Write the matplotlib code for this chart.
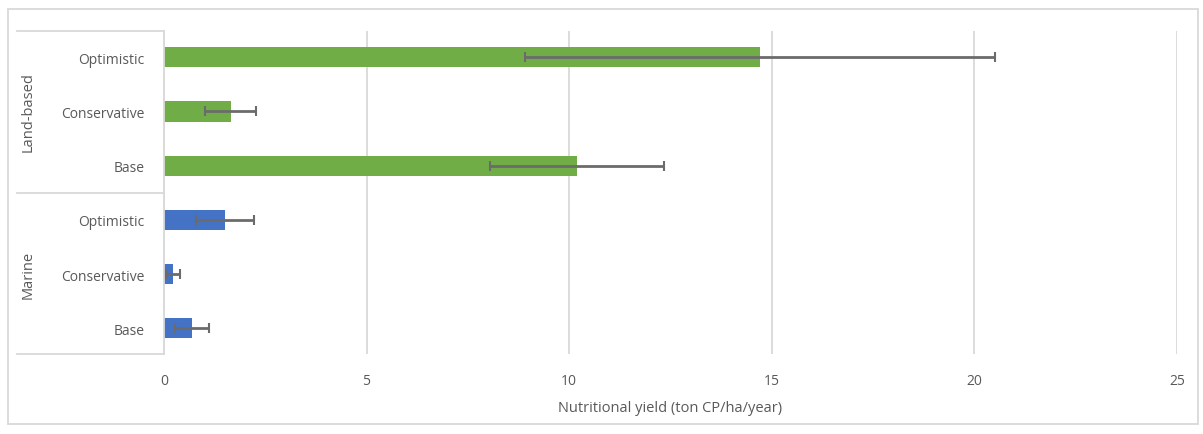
import numpy as np
import matplotlib

matplotlib.use("Agg")
import matplotlib.pyplot as plt
from matplotlib.patches import Rectangle

# Scenario rows, bottom to top
groups = ["Marine", "Land-based"]
scenarios = ["Base", "Conservative", "Optimistic"]
marine_yield = [0.69, 0.22, 1.50]
marine_err = [0.42, 0.18, 0.72]
land_yield = [10.2, 1.65, 14.7]
land_err = [2.15, 0.63, 5.8]

GREEN = "#70AD47"
BLUE = "#4472C4"
TEXT = "#595959"
GRID = "#D9D9D9"

plt.rcParams["font.family"] = ["Open Sans", "DejaVu Sans"]

fig = plt.figure(figsize=(12.03, 4.35), dpi=100)
ax = fig.add_axes([0.1363, 0.184, 0.842, 0.742])

values = marine_yield + land_yield
errors = marine_err + land_err
colors = [BLUE] * 3 + [GREEN] * 3
labels = scenarios * 2
ypos = np.arange(len(values))

ax.barh(ypos, values, height=0.37, color=colors, zorder=2)
ax.errorbar(values, ypos, xerr=errors, fmt="none", ecolor="#6B6B6B",
            elinewidth=2, capsize=3.5, capthick=1.5, zorder=3)

ax.set_xlim(0, 25)
ax.set_ylim(-0.47, 5.48)
ax.set_xticks(range(0, 26, 5))
ax.set_yticks(ypos)
ax.set_yticklabels(labels)
ax.tick_params(axis="both", length=0, colors=TEXT, labelsize=10)
ax.tick_params(axis="y", pad=14)
ax.tick_params(axis="x", pad=14)
ax.grid(axis="x", color=GRID, lw=1.3, zorder=0)
for s in ["top", "right", "bottom"]:
    ax.spines[s].set_visible(False)
ax.spines["left"].set_color(GRID)
ax.spines["left"].set_linewidth(1.3)

ax.set_xlabel("Nutritional yield (ton CP/ha/year)", color=TEXT, fontsize=10.5, labelpad=8)

# Category group brackets to the left of the axis
trans = ax.get_yaxis_transform()
x_left = (17 - 164) / (1177 - 164)
for yb in [-0.47, 2.5, 5.48]:
    ax.plot([x_left, 0], [yb, yb], transform=trans, color=GRID, lw=1.3, clip_on=False)
for gi, name in enumerate(groups):
    ax.text((28 - 164) / (1177 - 164), 1 + 3 * gi, name, transform=trans, rotation=90,
            ha="center", va="center", color=TEXT, fontsize=10.5)

# Chart outer border
fig.patches.append(Rectangle((8 / 1203, 10 / 435), 1190 / 1203, 415 / 435,
                             transform=fig.transFigure, fill=False,
                             edgecolor=GRID, lw=1.3))

fig.savefig("out.png", dpi=100)
